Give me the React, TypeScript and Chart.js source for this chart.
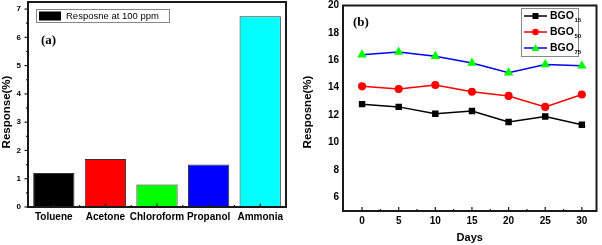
import React, { useEffect, useRef } from 'react';
import { Chart, registerables } from 'chart.js';
Chart.register(...registerables);

const gases = ['Toluene', 'Acetone', 'Chloroform', 'Propanol', 'Ammonia'];
const gasResponse = [1.2, 1.7, 0.8, 1.5, 6.75];
const gasColors = ['#000000', '#ff0000', '#00ff00', '#0000ff', '#00ffff'];
const responseTicks = [0, 1, 2, 3, 4, 5, 6, 7];

const days = [0, 5, 10, 15, 20, 25, 30];
const bgo15 = [12.8, 12.6, 12.1, 12.3, 11.5, 11.9, 11.3];
const bgo50 = [14.1, 13.9, 14.2, 13.7, 13.4, 12.6, 13.5];
const bgo75 = [16.4, 16.6, 16.3, 15.8, 15.1, 15.7, 15.6];
const dayTicks = [0, 5, 10, 15, 20, 25, 30];
const stabilityTicks = [6, 8, 10, 12, 14, 16, 18, 20];

const SANS = '"Liberation Sans", Arial, sans-serif';
const SERIF = '"Liberation Serif", "Times New Roman", serif';

function frame(ctx: CanvasRenderingContext2D, a: any) {
  ctx.save();
  ctx.strokeStyle = '#1a1a1a';
  ctx.lineWidth = 2;
  ctx.strokeRect(a.left, a.top, a.right - a.left, a.bottom - a.top);
  ctx.restore();
}

function line(ctx: CanvasRenderingContext2D, x1: number, y1: number, x2: number, y2: number) {
  ctx.beginPath();
  ctx.moveTo(x1, y1);
  ctx.lineTo(x2, y2);
  ctx.stroke();
}

function marker(ctx: CanvasRenderingContext2D, style: string, x: number, y: number, fill: string) {
  ctx.save();
  ctx.fillStyle = fill;
  ctx.beginPath();
  if (style === 'rect') {
    ctx.rect(x - 3, y - 3, 6, 6);
  } else if (style === 'circle') {
    ctx.arc(x, y, 3.3, 0, Math.PI * 2);
  } else {
    ctx.moveTo(x, y - 4);
    ctx.lineTo(x + 4, y + 3);
    ctx.lineTo(x - 4, y + 3);
    ctx.closePath();
  }
  ctx.fill();
  ctx.restore();
}

const leftPlugin = {
  id: 'leftDeco',
  afterDraw(chart: any) {
    const ctx = chart.ctx as CanvasRenderingContext2D;
    const a = chart.chartArea;
    const xs = chart.scales.x;
    const ys = chart.scales.y;
    frame(ctx, a);
    ctx.save();
    ctx.strokeStyle = '#1a1a1a';
    ctx.lineWidth = 1.2;
    for (let v = 0; v <= 7; v += 0.5) {
      const y = ys.getPixelForValue(v);
      const len = Number.isInteger(v) ? 3.5 : 2;
      line(ctx, a.left - len, y, a.left, y);
    }
    const n = gases.length;
    for (let i = 0; i < n; i++) {
      const x = xs.getPixelForValue(i);
      line(ctx, x, a.bottom, x, a.bottom - 3.5);
      if (i < n - 1) {
        const xb = (x + xs.getPixelForValue(i + 1)) / 2;
        line(ctx, xb, a.bottom, xb, a.bottom - 2);
      }
    }
    // y title
    ctx.save();
    ctx.translate(7, 112);
    ctx.rotate(-Math.PI / 2);
    ctx.fillStyle = '#000';
    ctx.font = 'bold 11.5px ' + SANS;
    ctx.textAlign = 'center';
    ctx.textBaseline = 'middle';
    ctx.fillText('Response(%)', 0, 0);
    ctx.restore();
    // legend
    ctx.fillStyle = '#fff';
    ctx.strokeStyle = '#888';
    ctx.lineWidth = 1;
    ctx.fillRect(36.5, 9.5, 133, 13);
    ctx.strokeRect(36.5, 9.5, 133, 13);
    ctx.fillStyle = '#000';
    ctx.fillRect(39, 11.5, 22, 9);
    ctx.font = '9.5px ' + SANS;
    ctx.textBaseline = 'middle';
    ctx.textAlign = 'left';
    ctx.fillText('Resposne at 100 ppm', 66, 16.5);
    ctx.font = 'bold 13px ' + SERIF;
    ctx.fillText('(a)', 41, 41);
    ctx.restore();
  },
};

const rightPlugin = {
  id: 'rightDeco',
  afterDraw(chart: any) {
    const ctx = chart.ctx as CanvasRenderingContext2D;
    const a = chart.chartArea;
    const xs = chart.scales.x;
    frame(ctx, a);
    ctx.save();
    ctx.strokeStyle = '#1a1a1a';
    ctx.lineWidth = 1.2;
    for (let v = 0; v <= 30; v += 2.5) {
      const x = xs.getPixelForValue(v);
      const len = v % 5 === 0 ? 4 : 2;
      line(ctx, x, a.bottom, x, a.bottom - len);
    }
    // y title
    ctx.save();
    ctx.translate(8, 112);
    ctx.rotate(-Math.PI / 2);
    ctx.fillStyle = '#000';
    ctx.font = 'bold 11.5px ' + SANS;
    ctx.textAlign = 'center';
    ctx.textBaseline = 'middle';
    ctx.fillText('Resposne(%)', 0, 0);
    ctx.restore();
    // legend
    ctx.fillStyle = '#fff';
    ctx.strokeStyle = '#888';
    ctx.lineWidth = 1;
    ctx.fillRect(221.5, 8.5, 57, 48);
    ctx.strokeRect(221.5, 8.5, 57, 48);
    const entries = [
      { sub: '15', color: '#000000', fill: '#000000', style: 'rect', y: 16 },
      { sub: '50', color: '#ff0000', fill: '#ff0000', style: 'circle', y: 32 },
      { sub: '75', color: '#0000ff', fill: '#00ff00', style: 'triangle', y: 48 },
    ];
    for (const e of entries) {
      ctx.strokeStyle = e.color;
      ctx.lineWidth = 1.5;
      line(ctx, 224, e.y, 247, e.y);
      marker(ctx, e.style, 235.5, e.y, e.fill);
      ctx.fillStyle = '#000';
      ctx.textBaseline = 'middle';
      ctx.textAlign = 'left';
      ctx.font = 'bold 10.5px ' + SANS;
      ctx.fillText('BGO', 250, e.y);
      const w = ctx.measureText('BGO').width;
      ctx.font = 'bold 6px ' + SANS;
      ctx.fillText(e.sub, 250 + w + 0.5, e.y + 4);
    }
    ctx.font = 'bold 13px ' + SERIF;
    ctx.fillText('(b)', 53, 23);
    ctx.restore();
  },
};

const noPad = (s: any) => {
  s.paddingTop = 0;
  s.paddingBottom = 0;
  s.paddingLeft = 0;
  s.paddingRight = 0;
};

function LeftChart() {
  const ref = useRef<HTMLCanvasElement>(null);
  useEffect(() => {
    const chart = new Chart(ref.current as HTMLCanvasElement, {
      type: 'bar',
      data: {
        labels: gases,
        datasets: [
          {
            label: 'Resposne at 100 ppm',
            data: gasResponse,
            backgroundColor: gasColors,
            borderColor: '#333',
            borderWidth: 1,
            barPercentage: 0.8,
            categoryPercentage: 1,
          },
        ],
      },
      options: {
        responsive: false,
        animation: false,
        layout: { padding: { top: 2, right: 14, left: 0, bottom: 0 } },
        plugins: { legend: { display: false }, tooltip: { enabled: false } },
        scales: {
          x: {
            offset: true,
            grid: { display: false, drawTicks: false },
            border: { display: false },
            ticks: {
              color: '#000',
              font: { family: SANS, size: 10, weight: 'bold' },
              padding: 4,
              maxRotation: 0,
              minRotation: 0,
              autoSkip: false,
            },
            afterFit: (s: any) => { s.height = 38; noPad(s); },
          },
          y: {
            min: 0,
            max: 7.25,
            grid: { display: false, drawTicks: false },
            border: { display: false },
            afterBuildTicks: (s: any) => { s.ticks = responseTicks.map((v) => ({ value: v })); },
            ticks: { color: '#000', font: { family: SANS, size: 8, weight: 'bold' }, padding: 7 },
            afterFit: (s: any) => { s.width = 28; noPad(s); },
          },
        },
      },
      plugins: [leftPlugin],
    } as any);
    return () => chart.destroy();
  }, []);
  return <canvas ref={ref} width={300} height={245} style={{ position: 'absolute', left: 0, top: 0 }} />;
}

function RightChart() {
  const ref = useRef<HTMLCanvasElement>(null);
  useEffect(() => {
    const mk = (label: string, data: number[], color: string, fill: string, style: string, r: number) => ({
      label,
      data: days.map((d, i) => ({ x: d, y: data[i] })),
      borderColor: color,
      backgroundColor: fill,
      pointBackgroundColor: fill,
      pointBorderColor: fill,
      pointStyle: style,
      pointRadius: r,
      borderWidth: 1.5,
      tension: 0,
    });
    const chart = new Chart(ref.current as HTMLCanvasElement, {
      type: 'line',
      data: {
        datasets: [
          mk('BGO15', bgo15, '#000000', '#000000', 'rect', 3.5),
          mk('BGO50', bgo50, '#ff0000', '#ff0000', 'circle', 3.3),
          mk('BGO75', bgo75, '#0000ff', '#00ff00', 'triangle', 4),
        ],
      },
      options: {
        responsive: false,
        animation: false,
        layout: { padding: { top: 5, right: 4, left: 0, bottom: 0 } },
        plugins: { legend: { display: false }, tooltip: { enabled: false } },
        scales: {
          x: {
            type: 'linear',
            min: -2.6,
            max: 32,
            grid: { display: false, drawTicks: false },
            border: { display: false },
            afterBuildTicks: (s: any) => { s.ticks = dayTicks.map((v) => ({ value: v })); },
            ticks: { color: '#000', font: { family: SANS, size: 10, weight: 'bold' }, padding: 4, maxRotation: 0 },
            title: {
              display: true,
              text: 'Days',
              color: '#000',
              font: { family: SANS, size: 11, weight: 'bold' },
              padding: { top: 0, bottom: 0 },
            },
            afterFit: (s: any) => { s.height = 34; noPad(s); },
          },
          y: {
            min: 5,
            max: 20,
            grid: { display: false, drawTicks: false },
            border: { display: false },
            afterBuildTicks: (s: any) => { s.ticks = stabilityTicks.map((v) => ({ value: v })); },
            ticks: { color: '#000', font: { family: SANS, size: 10, weight: 'bold' }, padding: 4 },
            afterFit: (s: any) => { s.width = 43; noPad(s); },
          },
        },
      },
      plugins: [rightPlugin],
    } as any);
    return () => chart.destroy();
  }, []);
  return <canvas ref={ref} width={302} height={245} style={{ position: 'absolute', left: 300, top: 0 }} />;
}

export default function App() {
  return (
    <div style={{ position: 'fixed', left: 0, top: 0, width: 602, height: 245, background: '#fff', overflow: 'hidden' }}>
      <LeftChart />
      <RightChart />
    </div>
  );
}
